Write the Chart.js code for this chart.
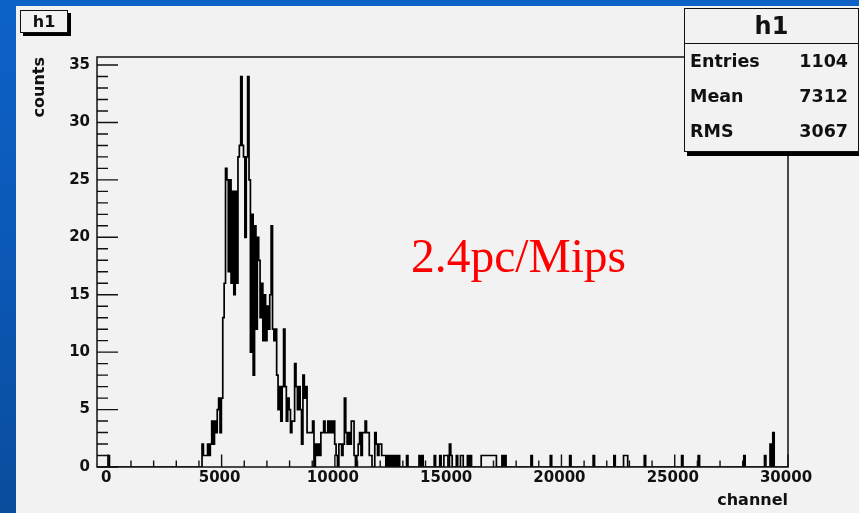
<!DOCTYPE html>
<html>
<head>
<meta charset="utf-8">
<title>h1 – channel spectrum</title>
<script src="https://cdn.jsdelivr.net/npm/chart.js@4.4.1/dist/chart.umd.min.js"></script>
<style>
  html, body { margin: 0; padding: 0; width: 859px; height: 513px; overflow: hidden;
    background: linear-gradient(180deg, #0d62c8 0%, #0b57b4 55%, #0a4c9c 100%); }
  #panel { position: absolute; left: 16px; top: 6px; width: 843px; height: 507px; background: #f2f2f2; }
  #chartBox { position: absolute; left: 0; top: 0; width: 859px; height: 513px; }
  .root { font-family: "DejaVu Sans", sans-serif; font-weight: bold; color: #111; }
  #histTitle { position: absolute; left: 20px; top: 10px; width: 46px; height: 21px;
    border: 1.5px solid #111; background: #f2f2f2; box-shadow: 3px 3px 0 #000;
    font-size: 16px; line-height: 21px; text-align: center; }
  #stats { position: absolute; left: 684px; top: 8px; width: 173px; height: 142px;
    border: 1.5px solid #111; background: #f2f2f2; box-shadow: 3px 4px 0 #000; }
  #stats .head { height: 34px; border-bottom: 1.5px solid #111; font-size: 24px;
    line-height: 34px; text-align: center; }
  #stats .row { height: 35px; line-height: 35px; font-size: 17.5px; display: flex;
    justify-content: space-between; padding: 0 10px 0 5px; }
  #note { position: absolute; left: 411px; top: 233px; font-family: "Liberation Serif", "Times New Roman", serif;
    font-size: 47.5px; line-height: 1; color: #ff0000; white-space: nowrap; }
</style>
</head>
<body>
<div id="panel"></div>
<div id="chartBox"><canvas id="hist" width="859" height="513"></canvas></div>
<div id="histTitle" class="root"></div>
<div id="stats" class="root"></div>
<div id="note"></div>
<script>
// Histogram binning: 500 bins of 61 channels from -500 to 30000
const histName = 'h1';
const binWidth = 61;
const xMin = -500;
const xMax = 30000;
const yMax = 35.7;

// Bin contents for the populated region, starting at bin 75 (channel 4075)
const peakFirstBin = 75;
const peakCounts = [
  0, 2, 1, 1, 1, 2, 1, 2, 4, 2, 4, 3, 5, 6, 3, 6, 13, 16,            // bins 75-92
  26, 25, 17, 25, 16, 24, 15, 24, 16, 27, 28, 34, 28, 27, 20, 27, 34, // bins 93-109
  25, 10, 22, 8, 21, 12, 20, 18, 13, 16, 11, 15, 11, 14, 12, 15, 21, 12, 11, 12, // 110-129
  8, 5, 7, 4, 7, 12, 7, 4, 6, 5, 3, 4, 4, 9, 7, 5, 7, 5, 2, 8, 6,    // bins 130-150
  7, 3, 3, 3, 3, 4, 0, 2, 1, 2, 1, 3, 3, 4, 3, 3, 4, 3, 4, 3, 4,     // bins 151-171
  2, 1, 0, 2, 2, 1, 2, 6, 3, 2, 3, 2, 4, 4, 1, 0, 1, 2, 3, 1, 3, 3, 4, 3, 3, // 172-196
  1, 1, 0, 0, 3, 2, 1, 2, 2, 1, 1, 1, 0, 1, 0, 1, 0, 1, 0, 1, 0, 1, 0 // bins 197-219
];

// Isolated entries elsewhere on the axis
const tailBins   = [8, 224, 233, 235, 244, 248, 251, 252, 253, 255, 256, 260, 263, 264, 268, 270,
                    278, 279, 280, 281, 282, 283, 284, 285, 286, 287, 288, 293, 295, 314, 328, 342,
                    359, 374, 381, 382, 383, 396, 423, 435, 468, 483, 487, 489];
const tailCounts = [1, 1, 1, 1, 1, 1, 1, 1, 1, 2, 1, 1, 1, 1, 1, 1,
                    1, 1, 1, 1, 1, 1, 1, 1, 1, 1, 1, 1, 1, 1, 1, 1,
                    1, 1, 1, 1, 1, 1, 1, 1, 1, 1, 2, 3];

const xTickValues = [0, 5000, 10000, 15000, 20000, 25000, 30000];
const yTickValues = [0, 5, 10, 15, 20, 25, 30, 35];
const xTitle = 'channel';
const yTitle = 'counts';
const statLabels = ['Entries', 'Mean', 'RMS'];
const statValues = [1104, 7312, 3067];
const noteText = '2.4pc/Mips';

// Assemble the full bin array (empty bins hold zero)
const nBins = Math.round((xMax - xMin) / binWidth);
const counts = new Array(nBins).fill(0);
peakCounts.forEach((c, k) => { counts[peakFirstBin + k] = c; });
tailBins.forEach((b, k) => { counts[b] = tailCounts[k]; });

// Step outline: each point sits on a bin's low edge and holds its content to the next edge
const outline = counts.map((c, i) => ({ x: xMin + i * binWidth, y: c }));
outline.push({ x: xMax, y: 0 });

// Annotation boxes
document.getElementById('histTitle').textContent = histName;
const stats = document.getElementById('stats');
stats.innerHTML = '<div class="head">' + histName + '</div>' +
  statLabels.map((l, i) => '<div class="row"><span>' + l + '</span><span>' + statValues[i] + '</span></div>').join('');
document.getElementById('note').textContent = noteText;

// Inward ROOT-style ticks and the frame around the plot area
const frameTicks = {
  id: 'frameTicks',
  afterDatasetsDraw(chart) {
    const { ctx, chartArea: a, scales: { x, y } } = chart;
    ctx.save();
    ctx.strokeStyle = '#111';
    ctx.lineWidth = 1.4;
    ctx.beginPath();
    for (let v = 0; v <= 35; v++) {
      const py = y.getPixelForValue(v);
      const len = v % 5 === 0 ? 21 : 11;
      ctx.moveTo(a.left, py);
      ctx.lineTo(a.left + len, py);
    }
    for (let v = 0; v <= xMax; v += 1000) {
      const px = x.getPixelForValue(v);
      const len = v % 5000 === 0 ? 12.5 : 6.5;
      ctx.moveTo(px, a.bottom);
      ctx.lineTo(px, a.bottom - len);
    }
    ctx.stroke();
    ctx.lineWidth = 1.5;
    ctx.strokeRect(a.left, a.top, a.right - a.left, a.bottom - a.top);
    ctx.restore();
  }
};

const tickFont = { family: 'DejaVu Sans', size: 15, weight: 'bold' };
const titleFont = { family: 'DejaVu Sans', size: 16, weight: 'bold' };

new Chart(document.getElementById('hist'), {
  type: 'line',
  data: {
    datasets: [{
      label: histName,
      data: outline,
      stepped: 'before',
      borderColor: '#000',
      borderWidth: 1.7,
      pointRadius: 0,
      fill: false,
      tension: 0
    }]
  },
  options: {
    responsive: false,
    animation: false,
    devicePixelRatio: 1,
    layout: { padding: { top: 57, right: 71, left: 0, bottom: 0 } },
    plugins: { legend: { display: false }, tooltip: { enabled: false } },
    scales: {
      x: {
        type: 'linear',
        min: xMin,
        max: xMax,
        grid: { display: false, drawTicks: false },
        border: { display: false },
        afterBuildTicks: s => { s.ticks = xTickValues.map(v => ({ value: v })); },
        afterFit: s => { s.height = 46; },
        ticks: { font: tickFont, color: '#111', padding: 2, maxRotation: 0, autoSkip: false,
                 labelOffset: -2, callback: v => String(v) },
        title: { display: true, text: xTitle, align: 'end', font: titleFont, color: '#111',
                 padding: { top: 0, bottom: 3 } }
      },
      y: {
        type: 'linear',
        min: 0,
        max: yMax,
        grid: { display: false, drawTicks: false },
        border: { display: false },
        afterBuildTicks: s => { s.ticks = yTickValues.map(v => ({ value: v })); },
        afterFit: s => { s.width = 97; },
        ticks: { font: tickFont, color: '#111', padding: 7 },
        title: { display: true, text: yTitle, align: 'end', font: titleFont, color: '#111',
                 padding: { top: 30, bottom: 0 } }
      }
    }
  },
  plugins: [frameTicks]
});
</script>
</body>
</html>
